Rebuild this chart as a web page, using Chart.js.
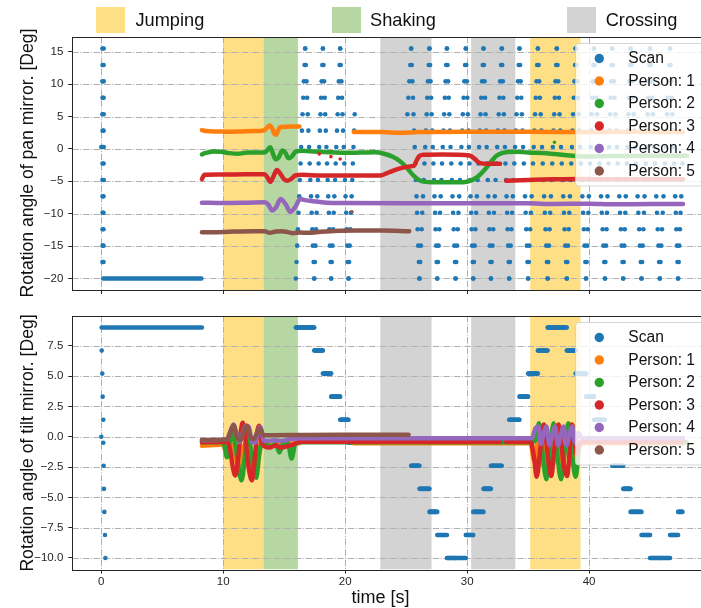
<!DOCTYPE html>
<html lang="en">
<head>
<meta charset="utf-8">
<title>Pan / tilt mirror angles</title>
<script src="https://cdn.jsdelivr.net/npm/chart.js@4.4.1/dist/chart.umd.min.js"></script>
<style>
  html, body { margin: 0; padding: 0; background: #fff; overflow: hidden; }
  #fig { position: relative; width: 701px; height: 608px; overflow: hidden;
         font-family: "Liberation Sans", Arial, sans-serif; color: #111; }
  #fig canvas { position: absolute; left: 0; top: 0; }
  .t { position: absolute; white-space: nowrap; line-height: 1; }
  .ylab { font-size: 17.6px; transform: translate(-50%, -50%) rotate(-90deg); }
  .xlab { font-size: 18px; transform: translateX(-50%); }
  .sw { position: absolute; width: 29px; height: 26px; top: 7px; }
  .leg { font-size: 18.2px; top: 10.6px; }
</style>
</head>
<body>
<div id="fig">
  <canvas id="panChart" width="720" height="608"></canvas>
  <canvas id="tiltChart" width="720" height="608"></canvas>
  <div class="t ylab" style="left:28.3px; top:163.4px">Rotation angle of pan mirror. [Deg]</div>
  <div class="t ylab" style="left:28.3px; top:442.7px">Rotation angle of tilt mirror. [Deg]</div>
  <div class="t xlab" style="left:380.6px; top:588px">time [s]</div>
</div>
<script>
// ---------------- data ----------------
const timeTicks = [0, 10, 20, 30, 40];
const panTicks  = [-20, -15, -10, -5, 0, 5, 10, 15];
const tiltTicks = [-10, -7.5, -5, -2.5, 0, 2.5, 5, 7.5];

const seriesNames  = ['Scan', 'Person: 1', 'Person: 2', 'Person: 3', 'Person: 4', 'Person: 5'];
const seriesColors = ['#1f77b4', '#ff7f0e', '#2ca02c', '#d62728', '#9467bd', '#8c564b'];

// annotated activities (seconds)
const activityNames  = ['Jumping', 'Shaking', 'Crossing'];
const activityColors = ['#FEDF85', '#B6D7A1', '#D3D3D3'];
const jumpingSpans  = [[10.0, 13.3], [35.17, 39.3]];
const shakingSpans  = [[13.3, 16.12]];
const crossingSpans = [[22.88, 27.08], [30.33, 33.95]];

// pan mirror step positions, top to bottom
const panLevels = [15.5, 12.96, 10.43, 7.89, 5.36, 2.82, 0.29, -2.25, -4.79, -7.32, -9.86, -12.39, -14.93, -17.46, -20.0];

// start-up scan column
const initPanT = [0.09, 0.2, 0.1, 0.19, 0.09, 0.2, 0.1, 0.19, 0.09, 0.2, 0.1, 0.19, 0.0, 0.09, 0.2,
                  0.1, 0.19, 0.09, 0.2, 0.1, 0.18, 0.1, 0.18, 0.1, 0.18, 0.1, 0.18, 0.09, 0.18];
const initPan  = [15.5, 15.5, 12.96, 12.96, 10.43, 10.43, 7.89, 7.89, 5.36, 5.36, 2.82, 2.82, 0.29, 0.29, 0.29,
                  -2.25, -2.25, -4.79, -4.79, -7.32, -7.32, -9.86, -9.86, -12.39, -12.39, -14.93, -14.93, -17.46, -17.46];
const initTiltT = [0.03, 0.08, 0.11, 0.16, 0.0, 0.16, 0.19, 0.22, 0.25, 0.30, 0.33];
const initTilt  = [7.1, 5.2, 3.3, 1.4, 0.0, -0.5, -2.4, -4.3, -6.2, -8.1, -10.0];

// idle hold after start-up
const panHoldT  = [0.15, 8.2];
const panHold   = [-20.0, -20.0];
const tiltHoldT = [0.03, 8.25];
const tiltHold  = [9.0, 9.0];

// raster sweeps: tilt level of each pan sweep
const sweepTilt = [9.0, 9.0, 7.1, 5.2, 3.3, 1.4, -0.5, -0.5, -2.4, -4.3, -6.2, -8.1, -10.0, -10.0, -8.1, -6.2,
                   -4.3, -2.4, -0.5, 1.4, 3.3, 5.2, 7.1, 9.0, 9.0, 7.1, 5.2, 3.3, 1.4, -0.5, -2.4, -4.3,
                   -6.2, -8.1, -10.0, -10.0, -8.1, -6.2];
// time [s] at which each sweep passed panLevels[0..14]
const sweepTimes = [
  [16.72,16.67,16.61,16.56,16.50,16.45,16.39,16.34,16.28,16.23,16.17,16.12,16.06,16.01,15.95],
  [16.72,16.77,16.83,16.88,16.93,16.98,17.04,17.09,17.14,17.20,17.25,17.30,17.35,17.41,17.46],
  [18.17,18.12,18.07,18.02,17.97,17.92,17.87,17.82,17.76,17.71,17.66,17.61,17.56,17.51,17.46],
  [18.17,18.22,18.27,18.32,18.36,18.41,18.46,18.51,18.56,18.61,18.66,18.70,18.75,18.80,18.85],
  [19.59,19.54,19.48,19.43,19.38,19.33,19.27,19.22,19.17,19.11,19.06,19.01,18.96,18.90,18.85],
  [19.59,19.64,19.69,19.74,19.78,19.83,19.88,19.93,19.98,20.03,20.08,20.12,20.17,20.22,20.27],
  [null,null,null,null,20.78,20.73,20.68,20.63,20.58,20.53,20.47,20.42,20.37,20.32,20.27],
  [25.41,25.34,25.26,25.18,25.10,null,null,null,null,null,null,null,null,null,null],
  [25.41,25.46,25.51,25.56,25.60,25.65,25.70,25.75,25.80,25.85,25.90,25.94,25.99,26.04,26.09],
  [26.91,26.85,26.79,26.73,26.68,26.62,26.56,26.50,26.44,26.38,26.32,26.27,26.21,26.15,26.09],
  [26.91,26.96,27.00,27.05,27.09,27.14,27.18,27.23,27.28,27.32,27.37,27.41,27.46,27.50,27.55],
  [28.34,28.28,28.23,28.17,28.11,28.06,28.00,27.94,27.89,27.83,27.78,27.72,27.66,27.61,27.55],
  [28.34,28.39,28.44,28.49,28.54,28.59,28.64,28.70,28.75,28.80,28.85,28.90,28.95,29.00,29.05],
  [29.89,29.83,29.77,29.71,29.65,29.59,29.53,29.47,29.41,29.35,29.29,29.23,29.17,29.11,29.05],
  [29.89,29.93,29.98,30.02,30.06,30.11,30.15,30.19,30.24,30.28,30.33,30.37,30.41,30.46,30.50],
  [31.34,31.28,31.22,31.16,31.10,31.04,30.98,30.92,30.86,30.80,30.74,30.68,30.62,30.56,30.50],
  [31.34,31.38,31.43,31.47,31.51,31.56,31.60,31.64,31.69,31.73,31.78,31.82,31.86,31.91,31.95],
  [32.84,32.78,32.71,32.65,32.59,32.52,32.46,32.40,32.33,32.27,32.20,32.14,32.08,32.01,31.95],
  [32.84,32.88,32.93,32.97,33.01,33.06,33.10,33.14,33.19,33.23,33.28,33.32,33.36,33.41,33.45],
  [34.29,34.23,34.17,34.11,34.05,33.99,33.93,33.87,33.81,33.75,33.69,33.63,33.57,33.51,33.45],
  [34.29,34.34,34.39,34.44,34.49,34.54,34.59,34.65,34.70,34.75,34.80,34.85,34.90,34.95,35.00],
  [35.80,35.74,35.69,35.63,35.57,35.51,35.46,35.40,35.34,35.29,35.23,35.17,35.11,35.06,35.00],
  [35.80,35.86,35.91,35.97,36.03,36.09,36.14,36.20,36.26,36.31,36.37,36.43,36.49,36.54,36.60],
  [37.35,37.30,37.24,37.19,37.14,37.08,37.03,36.98,36.92,36.87,36.81,36.76,36.71,36.65,36.60],
  [37.35,37.41,37.47,37.53,37.58,37.64,37.70,37.76,37.82,37.88,37.94,37.99,38.05,38.11,38.17],
  [38.90,38.85,38.80,38.74,38.69,38.64,38.59,38.54,38.48,38.43,38.38,38.33,38.27,38.22,38.17],
  [38.90,38.96,39.02,39.08,39.14,39.20,39.26,39.32,39.39,39.45,39.51,39.57,39.63,39.69,39.75],
  [40.40,40.35,40.31,40.26,40.21,40.17,40.12,40.08,40.03,39.98,39.94,39.89,39.84,39.80,39.75],
  [40.40,40.46,40.53,40.59,40.66,40.72,40.79,40.85,40.91,40.98,41.04,41.11,41.17,41.24,41.30],
  [41.90,41.86,41.81,41.77,41.73,41.69,41.64,41.60,41.56,41.51,41.47,41.43,41.39,41.34,41.30],
  [41.90,41.96,42.03,42.09,42.16,42.22,42.29,42.35,42.41,42.48,42.54,42.61,42.67,42.74,42.80],
  [43.40,43.36,43.31,43.27,43.23,43.19,43.14,43.10,43.06,43.01,42.97,42.93,42.89,42.84,42.80],
  [43.40,43.46,43.53,43.59,43.66,43.72,43.79,43.85,43.91,43.98,44.04,44.11,44.17,44.24,44.30],
  [45.00,44.95,44.90,44.85,44.80,44.75,44.70,44.65,44.60,44.55,44.50,44.45,44.40,44.35,44.30],
  [45.00,45.06,45.11,45.17,45.23,45.29,45.34,45.40,45.46,45.51,45.57,45.63,45.69,45.74,45.80],
  [46.64,46.58,46.52,46.46,46.40,46.34,46.28,46.22,46.16,46.10,46.04,45.98,45.92,45.86,45.80],
  [46.64,46.69,46.73,46.78,46.83,46.88,46.92,46.97,47.02,47.06,47.11,47.16,47.21,47.25,47.30],
  [null,null,null,null,null,null,null,47.66,47.61,47.56,47.50,47.45,47.40,47.35,47.30]
];

// tracked persons, pan angle (null = track lost)
const p1PanT = [8.25, 8.6, 9.5, 10.5, 11.5, 12.5, 13.3, 13.55, 13.8, 14.0, 14.2, 14.35, 14.55, 14.75, 15.5, 16.25, null, 20.7, 23.0, 24.5, 26.0, 30.0, 35.0, 40.0, 44.0, 47.7];
const p1Pan  = [2.9, 2.75, 2.7, 2.65, 2.7, 2.75, 2.85, 3.2, 3.6, 3.2, 2.3, 2.2, 3.1, 3.4, 3.45, 3.45, null, 2.6, 2.6, 2.5, 2.6, 2.65, 2.65, 2.6, 2.65, 2.6];
const p2PanT = [8.25, 8.5, 9.2, 9.8, 10.5, 11.2, 12.0, 13.0, 13.45, 13.85, 14.05, 14.3, 14.55, 14.85, 15.1, 15.35, 15.65, 15.95, 16.5, 17.5, 20.0, 22.5, 23.2, 23.9, 24.5, 25.05, 25.5, 25.9, 26.4, 27.5, 29.7, 30.3, 30.8, 31.2, 31.6, 32.0, 32.4, 32.9, 33.8, 35.0, 36.5, 38.0, 39.3, 42.0, 45.0, 48.0];
const p2Pan  = [-0.85, -0.65, -0.4, -0.45, -0.65, -0.75, -0.55, -0.55, -0.5, 0.25, -0.6, -1.6, -1.3, -0.25, -0.6, -1.45, -1.1, -0.4, -0.3, -0.4, -0.6, -0.5, -0.75, -1.2, -1.9, -2.9, -3.9, -4.6, -5.05, -5.15, -5.15, -4.9, -4.4, -3.7, -2.85, -1.9, -1.05, -0.6, -0.42, -0.55, -0.68, -0.95, -1.15, -1.1, -1.05, -1.05];
const p3PanT = [8.25, 8.45, 9.5, 11.0, 12.5, 13.4, 13.65, 13.85, 14.1, 14.4, 14.7, 15.0, 15.27, 15.6, 15.9, 16.5, 18.0, 20.0, 22.9, 23.6, 24.5, 25.3, 25.65, 25.85, 26.05, 26.4, 28.0, 30.2, 30.6, 31.07, 31.6, 32.7, null, 33.2, 35.0, 37.0, 39.3, 42.0, 45.0, 47.7];
const p3Pan  = [-4.65, -4.0, -3.95, -3.95, -3.9, -3.9, -4.5, -5.1, -4.3, -3.25, -3.9, -4.7, -4.9, -4.6, -4.1, -4.0, -4.1, -4.1, -4.1, -3.6, -3.0, -2.7, -2.6, -1.8, -1.15, -0.9, -0.85, -1.0, -1.5, -2.2, -2.3, -2.3, null, -4.9, -4.8, -4.7, -4.64, -4.7, -4.7, -4.7];
const p4PanT = [8.25, 10.0, 12.0, 13.4, 13.7, 14.0, 14.3, 14.7, 15.1, 15.5, 15.9, 16.3, 16.7, 17.2, 18.5, 20.0, 25.0, 30.0, 35.0, 37.0, 40.0, 42.0, 45.0, 47.7];
const p4Pan  = [-8.3, -8.35, -8.3, -8.25, -8.6, -9.5, -9.1, -7.75, -8.5, -9.7, -9.0, -7.75, -7.9, -8.05, -8.3, -8.35, -8.4, -8.4, -8.4, -8.5, -8.45, -8.55, -8.5, -8.5];
const p5PanT = [8.25, 9.5, 11.0, 12.5, 13.4, 13.8, 14.3, 14.8, 15.3, 15.7, 16.3, 17.0, 18.0, 19.5, 21.0, 23.0, 25.25];
const p5Pan  = [-12.85, -12.85, -12.75, -12.7, -12.7, -12.95, -12.75, -12.7, -12.85, -13.0, -12.9, -12.95, -12.8, -12.65, -12.6, -12.6, -12.7];
// isolated detections
const p2PanStrayT = [37.16];
const p2PanStray  = [1.02];
const p3PanStrayT = [17.87, 18.83, 19.59];
const p3PanStray  = [-0.77, -1.19, -1.55];
const p5PanStrayT = [20.55];
const p5PanStray  = [-9.7];

// tracked persons, tilt angle
const p1TiltT = [8.25, 9.0, 10.0, 10.3, 10.6, 10.95, 11.3, 11.6, 11.9, 12.3, 12.6, 12.95, 13.3, 14.0, 15.0, 16.25, null, 20.7, 35.2, 35.5, 35.8, 36.2, 36.6, 37.0, 37.4, 37.8, 38.2, 38.6, 39.0, 39.4, 43.0, 47.7];
const p1Tilt  = [-0.75, -0.7, -0.65, -1.6, -0.6, -1.4, -2.6, -1.0, -0.6, -2.4, -2.8, -0.9, -0.6, -0.7, -0.6, -0.55, null, -0.55, -0.55, -2.0, -0.4, -2.3, -0.4, -2.4, -0.4, -2.3, -0.4, -2.2, -0.5, -0.55, -0.55, -0.55];
const p2TiltT = [8.25, 10.0, 10.15, 10.3, 10.45, 10.7, 10.95, 11.25, 11.5, 11.75, 11.95, 12.2, 12.45, 12.7, 12.95, 13.2, 13.4, 13.9, 14.3, 14.6, 14.9, 15.3, 15.6, 15.9, 16.3, 35.2, 35.6, 35.9, 36.2, 36.5, 36.8, 37.1, 37.4, 37.7, 38.0, 38.3, 38.6, 38.9, 39.2, 39.5, 48.0];
const p2Tilt  = [-0.45, -0.45, -1.0, -1.7, -0.9, 0.3, -0.5, -2.5, -3.6, -1.8, 0.6, -0.6, -2.6, -3.4, -1.5, -0.3, -0.5, -0.8, -0.6, -1.3, -0.6, -0.5, -1.8, -0.6, -0.45, -0.45, -0.3, 1.1, -1.5, -3.5, -1.0, 1.1, -1.5, -3.5, -1.2, 1.1, -1.5, -3.3, -0.8, -0.4, -0.45];
const p3TiltT = [8.25, 10.3, 10.55, 10.8, 11.0, 11.25, 11.45, 11.6, 11.8, 12.05, 12.35, 12.6, 12.8, 12.95, 13.15, 13.4, 13.8, 14.3, 14.7, 15.2, 15.6, 16.3, 25.0, 32.7, null, 33.2, 35.2, 35.5, 35.7, 35.95, 36.15, 36.3, 36.5, 36.7, 36.9, 37.1, 37.3, 37.5, 37.7, 37.95, 38.2, 38.4, 38.6, 38.8, 39.0, 39.2, 39.4, 47.7];
const p3Tilt  = [-0.45, -0.42, -1.0, -2.6, -3.2, -1.5, 0.5, 1.15, 0.0, -2.3, -3.6, -1.6, 0.5, 0.9, -0.5, -0.8, -0.9, -0.7, -0.9, -0.8, -0.7, -0.42, -0.42, -0.42, null, -0.42, -0.42, -1.8, -3.3, -1.5, 0.4, 1.0, -0.5, -2.3, -3.25, -1.5, 0.5, 1.0, -0.5, -2.5, -3.25, -1.3, 1.0, -0.2, -1.5, -0.6, -0.42, -0.42];
const p4TiltT = [8.25, 10.3, 10.6, 10.85, 11.1, 11.35, 11.6, 11.85, 12.1, 12.35, 12.6, 12.85, 13.05, 13.3, 13.6, 14.2, 14.8, 15.5, 16.3, 35.3, 35.6, 35.85, 36.05, 36.25, 36.5, 36.75, 37.0, 37.2, 37.45, 37.7, 37.9, 38.15, 38.4, 38.6, 38.85, 39.1, 39.4, 47.7];
const p4Tilt  = [-0.3, -0.2, 0.5, 1.0, 0.2, -0.45, 0.3, 0.9, 0.8, -0.4, -0.5, 0.5, 0.8, -0.3, -0.35, -0.3, -0.35, -0.2, -0.13, -0.13, 0.7, 0.85, -0.6, 0.2, 0.85, -0.7, 0.2, 0.85, -0.7, 0.2, 0.85, -0.7, 0.2, 0.85, -0.5, 0.3, -0.1, -0.13];
const p5TiltT = [8.25, 10.3, 10.6, 10.85, 11.1, 11.4, 11.7, 11.95, 12.2, 12.5, 12.8, 13.0, 13.3, 13.6, 16.0, 20.0, 25.2];
const p5Tilt  = [-0.27, -0.25, 0.4, 0.95, 0.0, -0.3, 0.5, 0.9, 0.0, -0.2, 0.4, 0.7, 0.1, 0.12, 0.14, 0.15, 0.15];

// ---------------- helpers ----------------
Chart.defaults.font.family = '"Liberation Sans", Arial, sans-serif';

const toXY = (ts, vs) => ts.map((t, i) => ({ x: t === null ? NaN : t, y: vs[i] === null ? NaN : vs[i] }));
const minus = s => String(s).replace('-', '\u2212');

function scanPoints(valueOf) {
  const pts = [];
  sweepTimes.forEach((row, k) => row.forEach((t, i) => {
    if (t !== null) pts.push({ x: t, y: valueOf(k, i) });
  }));
  return pts;
}

const bandSets = [jumpingSpans, shakingSpans, crossingSpans];

// activity bands + dash-dot grid, under the data
const backdrop = {
  id: 'backdrop',
  beforeDatasetsDraw(chart) {
    const { ctx, chartArea: a, scales: { x, y } } = chart;
    ctx.save();
    ctx.beginPath();
    ctx.rect(a.left, a.top, a.right - a.left, a.bottom - a.top);
    ctx.clip();
    bandSets.forEach((spans, j) => {
      ctx.fillStyle = activityColors[j];
      spans.forEach(([s, e]) => {
        const x0 = x.getPixelForValue(s), x1 = x.getPixelForValue(e);
        ctx.fillRect(x0, a.top, x1 - x0, a.bottom - a.top);
      });
    });
    ctx.strokeStyle = '#b0b0b0';
    ctx.lineWidth = 1;
    ctx.setLineDash([6.4, 1.6, 1, 1.6]);
    x.ticks.forEach(t => {
      const px = Math.round(x.getPixelForValue(t.value)) + 0.5;
      ctx.beginPath(); ctx.moveTo(px, a.top); ctx.lineTo(px, a.bottom); ctx.stroke();
    });
    y.ticks.forEach(t => {
      const py = Math.round(y.getPixelForValue(t.value)) + 0.5;
      ctx.beginPath(); ctx.moveTo(a.left, py); ctx.lineTo(a.right, py); ctx.stroke();
    });
    ctx.restore();
  }
};

// axes frame
const frame = {
  id: 'frame',
  afterDatasetsDraw(chart) {
    const { ctx, chartArea: a } = chart;
    ctx.save();
    ctx.strokeStyle = '#262626';
    ctx.lineWidth = 1;
    const l = Math.round(a.left) + 0.5, t = Math.round(a.top) + 0.5;
    const r = Math.round(a.right) + 0.5, b = Math.round(a.bottom) + 0.5;
    ctx.strokeRect(l, t, r - l, b - t);
    ctx.restore();
  }
};

// series legend in the upper right corner of each axes
const seriesLegend = {
  id: 'seriesLegend',
  afterDraw(chart) {
    const { ctx, chartArea: a } = chart;
    const left = 575.5, top = a.top + 6.5, right = a.right - 6.5, h = 142.5, r = 3;
    ctx.save();
    ctx.beginPath();
    ctx.moveTo(left + r, top);
    ctx.lineTo(right - r, top); ctx.arcTo(right, top, right, top + r, r);
    ctx.lineTo(right, top + h - r); ctx.arcTo(right, top + h, right - r, top + h, r);
    ctx.lineTo(left + r, top + h); ctx.arcTo(left, top + h, left, top + h - r, r);
    ctx.lineTo(left, top + r); ctx.arcTo(left, top, left + r, top, r);
    ctx.closePath();
    ctx.fillStyle = 'rgba(255,255,255,0.8)';
    ctx.fill();
    ctx.strokeStyle = 'rgba(204,204,204,0.8)';
    ctx.lineWidth = 1;
    ctx.stroke();
    ctx.font = '15.6px "Liberation Sans", Arial, sans-serif';
    ctx.textBaseline = 'middle';
    seriesNames.forEach((name, i) => {
      const cy = top + 15 + i * 22.5;
      ctx.beginPath();
      ctx.arc(599.3, cy, 4.7, 0, Math.PI * 2);
      ctx.fillStyle = seriesColors[i];
      ctx.fill();
      ctx.fillStyle = '#111';
      ctx.fillText(name, 628.3, cy + 0.5);
    });
    ctx.restore();
  }
};

function scales(yMin, yMax, yTicks, yFmt, timeLabels) {
  const tickFont = { size: 11.5 };
  return {
    x: {
      type: 'linear', min: -2.38, max: 50.08,
      afterBuildTicks: s => { s.ticks = timeTicks.map(v => ({ value: v })); },
      afterFit: s => { s.height = 20; },
      ticks: { maxRotation: 0, autoSkip: false, padding: 1, color: '#262626', font: tickFont,
               callback: v => timeLabels ? String(v) : '' },
      grid: { drawOnChartArea: false, drawTicks: true, tickLength: 4, tickColor: '#262626', tickWidth: 1 },
      border: { display: false }
    },
    y: {
      type: 'linear', min: yMin, max: yMax,
      afterBuildTicks: s => { s.ticks = yTicks.map(v => ({ value: v })); },
      afterFit: s => { s.width = 72.3; },
      ticks: { padding: 5, autoSkip: false, color: '#262626', font: tickFont, callback: yFmt },
      grid: { drawOnChartArea: false, drawTicks: true, tickLength: 4, tickColor: '#262626', tickWidth: 1 },
      border: { display: false }
    }
  };
}

const lineStyle = (i, order) => ({
  showLine: true, pointRadius: 0, borderColor: seriesColors[i], borderWidth: 4.5,
  borderCapStyle: 'round', borderJoinStyle: 'round', cubicInterpolationMode: 'monotone',
  spanGaps: false, order
});
const dotStyle = (i, r, order) => ({
  showLine: false, pointRadius: r, pointBorderWidth: 0, backgroundColor: seriesColors[i],
  pointBackgroundColor: seriesColors[i], order
});

function makeChart(id, padding, datasets, sc) {
  return new Chart(document.getElementById(id), {
    type: 'scatter',
    data: { datasets },
    options: {
      responsive: false, maintainAspectRatio: false, devicePixelRatio: 1,
      animation: false, events: [],
      layout: { padding },
      plugins: { legend: { display: false }, tooltip: { enabled: false } },
      scales: sc
    },
    plugins: [backdrop, frame, seriesLegend]
  });
}

// ---------------- pan mirror ----------------
makeChart('panChart', { top: 37, left: 0, right: 8, bottom: 298 }, [
  { data: toXY(initPanT, initPan), ...dotStyle(0, 2.3, 10) },
  { data: scanPoints((k, i) => panLevels[i]), ...dotStyle(0, 2.3, 10) },
  { data: toXY(panHoldT, panHold), ...lineStyle(0, 10), borderWidth: 4.6 },
  { data: toXY(p1PanT, p1Pan), ...lineStyle(1, 5) },
  { data: toXY(p2PanT, p2Pan), ...lineStyle(2, 4) },
  { data: toXY(p2PanStrayT, p2PanStray), ...dotStyle(2, 1.8, 4) },
  { data: toXY(p3PanT, p3Pan), ...lineStyle(3, 3) },
  { data: toXY(p3PanStrayT, p3PanStray), ...dotStyle(3, 1.8, 3) },
  { data: toXY(p4PanT, p4Pan), ...lineStyle(4, 2) },
  { data: toXY(p5PanT, p5Pan), ...lineStyle(5, 1) },
  { data: toXY(p5PanStrayT, p5PanStray), ...dotStyle(5, 1.8, 1) }
], scales(-21.78, 17.28, panTicks, v => minus(v), false));

// ---------------- tilt mirror ----------------
makeChart('tiltChart', { top: 316, left: 0, right: 8, bottom: 18.5 }, [
  { data: toXY(initTiltT, initTilt), ...dotStyle(0, 2.3, 10) },
  { data: scanPoints((k) => sweepTilt[k]), ...dotStyle(0, 2.3, 10) },
  { data: toXY(tiltHoldT, tiltHold), ...lineStyle(0, 10), borderWidth: 4.6 },
  { data: toXY(p1TiltT, p1Tilt), ...lineStyle(1, 5) },
  { data: toXY(p2TiltT, p2Tilt), ...lineStyle(2, 4) },
  { data: toXY(p3TiltT, p3Tilt), ...lineStyle(3, 3) },
  { data: toXY(p4TiltT, p4Tilt), ...lineStyle(4, 2) },
  { data: toXY(p5TiltT, p5Tilt), ...lineStyle(5, 1) }
], scales(-10.95, 9.95, tiltTicks, v => minus(Number(v).toFixed(1)), true));

// activity legend above the axes
const fig = document.getElementById('fig');
const swatchLeft = [96, 332.1, 566.8];
const textLeft = [135.5, 370.1, 605.7];
activityNames.forEach((name, j) => {
  const sw = document.createElement('div');
  sw.className = 'sw';
  sw.style.left = swatchLeft[j] + 'px';
  sw.style.background = activityColors[j];
  fig.appendChild(sw);
  const tx = document.createElement('div');
  tx.className = 't leg';
  tx.style.left = textLeft[j] + 'px';
  tx.textContent = name;
  fig.appendChild(tx);
});
</script>
</body>
</html>
